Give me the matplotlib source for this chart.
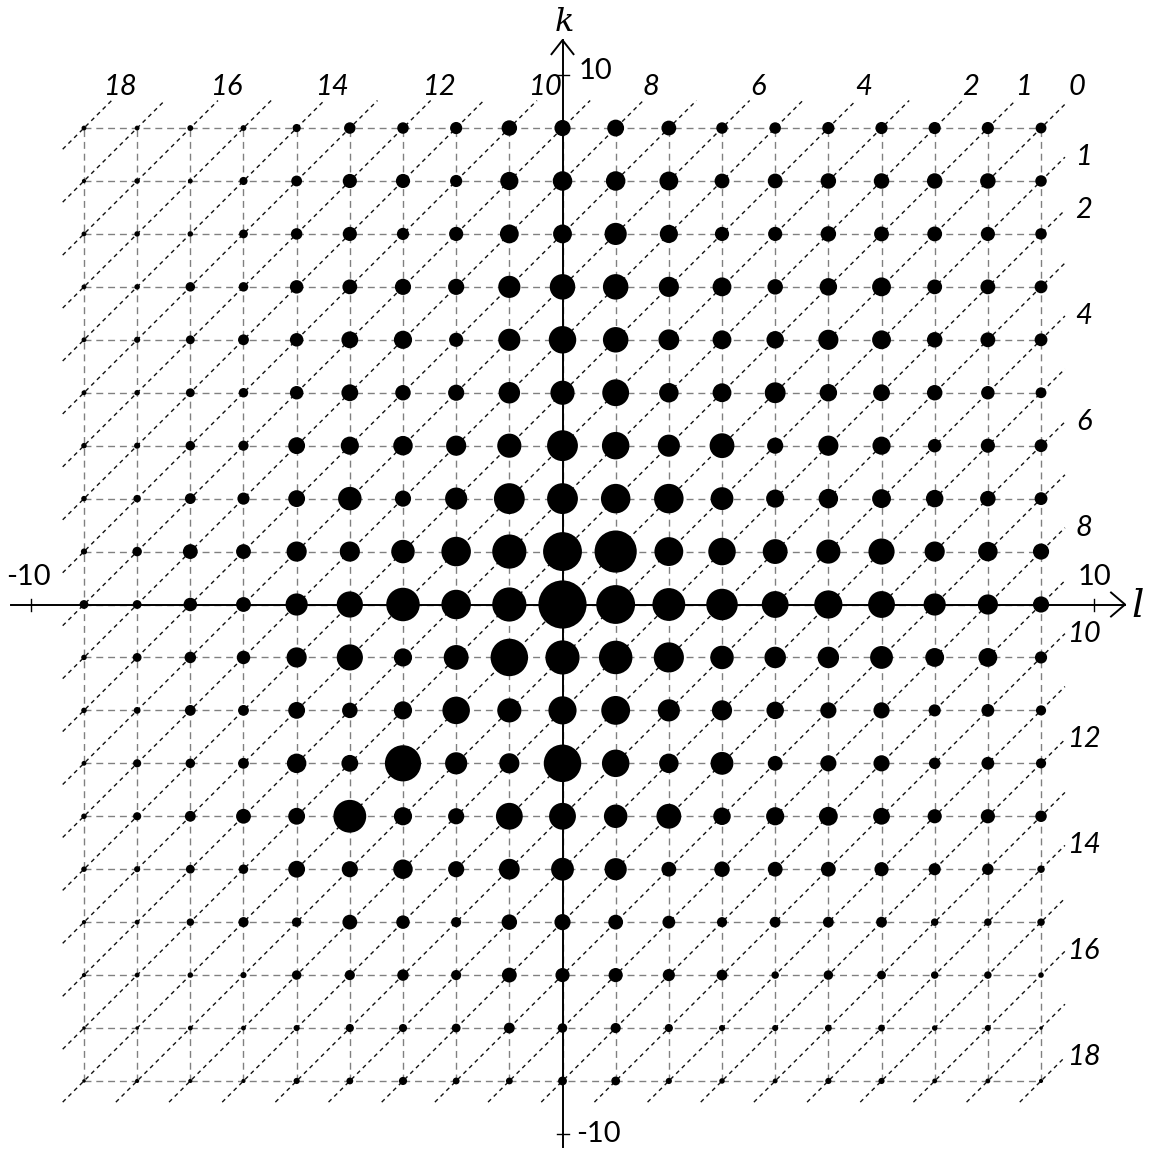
import matplotlib
matplotlib.use("Agg")
import matplotlib.pyplot as plt
import numpy as np

# grid indices
l_vals = list(range(-9, 10))
k_vals = list(range(9, -10, -1))

# dot diameters (~px*3), rows k=9..-9, columns l=-9..9
dot_size = [
    [10, 10, 13, 13, 20, 30, 30, 32, 42, 44, 46, 40, 30, 30, 32, 32, 32, 32, 28],
    [8, 12, 10, 20, 28, 38, 38, 32, 50, 54, 54, 52, 40, 40, 42, 42, 42, 42, 30],
    [10, 12, 12, 22, 30, 38, 32, 38, 52, 52, 62, 50, 38, 38, 42, 40, 40, 38, 30],
    [10, 12, 24, 24, 36, 40, 44, 44, 62, 72, 72, 56, 52, 42, 48, 52, 40, 40, 34],
    [10, 14, 22, 28, 36, 46, 50, 38, 62, 78, 72, 58, 52, 48, 56, 52, 42, 40, 34],
    [10, 12, 22, 24, 36, 46, 42, 44, 60, 68, 76, 54, 52, 58, 48, 46, 42, 36, 28],
    [12, 14, 24, 26, 46, 50, 54, 56, 68, 88, 78, 62, 70, 44, 56, 50, 36, 38, 34],
    [12, 18, 28, 32, 46, 66, 44, 62, 88, 88, 84, 84, 64, 50, 54, 52, 48, 42, 34],
    [14, 24, 40, 40, 56, 56, 66, 84, 98, 112, 122, 82, 78, 70, 68, 74, 56, 54, 44],
    [22, 22, 36, 40, 62, 74, 96, 84, 98, 140, 112, 94, 90, 76, 80, 76, 62, 56, 44],
    [12, 22, 30, 36, 56, 74, 50, 70, 108, 98, 96, 86, 66, 60, 60, 64, 52, 52, 32],
    [12, 16, 28, 28, 46, 42, 50, 78, 68, 80, 82, 62, 56, 48, 44, 44, 32, 34, 26],
    [10, 20, 24, 28, 54, 46, 104, 62, 56, 108, 78, 54, 64, 40, 44, 44, 30, 34, 26],
    [12, 20, 28, 40, 46, 94, 50, 44, 76, 76, 66, 70, 48, 50, 52, 46, 38, 38, 30],
    [12, 14, 22, 24, 46, 44, 54, 44, 58, 64, 62, 40, 42, 40, 40, 38, 32, 30, 18],
    [8, 10, 18, 26, 24, 40, 36, 26, 42, 44, 40, 34, 26, 28, 28, 28, 18, 18, 18],
    [8, 10, 12, 14, 24, 26, 30, 26, 40, 38, 38, 32, 28, 18, 24, 22, 18, 18, 12],
    [6, 6, 10, 10, 14, 20, 20, 22, 28, 24, 26, 20, 14, 14, 16, 16, 12, 14, 6],
    [6, 8, 8, 8, 14, 16, 20, 16, 16, 22, 22, 14, 12, 10, 14, 14, 10, 10, 8],
]

top_labels = [0, 1, 2, 4, 6, 8, 10, 12, 14, 16, 18]
right_labels = [1, 2, 4, 6, 8, 10, 12, 14, 16, 18]

W, H = 1151, 1149
cx, cy = 562.5, 604.5
sx, sy = 53.17, 52.94

fig = plt.figure(figsize=(W / 100, H / 100), dpi=100)
ax = fig.add_axes([0, 0, 1, 1])
ax.set_xlim(-cx / sx, (W - cx) / sx)
ax.set_ylim(-(H - cy) / sy, cy / sy)
ax.set_axis_off()

# dashed grid
for v in l_vals:
    ax.plot([v, v], [-9, 9], color="#808080", lw=1.0, dashes=(5, 3.5), zorder=1)
for v in k_vals:
    ax.plot([-9, 9], [v, v], color="#808080", lw=1.0, dashes=(5, 3.5), zorder=1)

# diagonals l - k = c
lo, hi_l, hi_k = -9.4, 9.45, 9.52
for c in range(-18, 19):
    k0 = max(lo, lo - c)
    k1 = min(hi_k, hi_l - c)
    ax.plot([k0 + c, k1 + c], [k0, k1], color="#111111", lw=1.0,
            dashes=(3, 2.8), zorder=2)

# axes with open arrows
ax.plot([-10.38, 10.58], [0, 0], color="black", lw=1.4, zorder=3)
ax.plot([0, 0], [-10.25, 10.66], color="black", lw=1.4, zorder=3)
ax.plot([10.58 - 14 / sx, 10.58, 10.58 - 14 / sx], [12 / sy, 0, -12 / sy],
        color="black", lw=1.4, zorder=3)
ax.plot([-11 / sx, 0, 11 / sx], [10.66 - 14 / sy, 10.66, 10.66 - 14 / sy],
        color="black", lw=1.4, zorder=3)
for t in (-10, 10):
    ax.plot([t, t], [-6 / sy, 6 / sy], color="black", lw=1.0, zorder=3)
    ax.plot([-6 / sx, 6 / sx], [t, t], color="black", lw=1.0, zorder=3)

# dots
L, K = np.meshgrid(l_vals, k_vals)
d_px = np.array(dot_size) / 3.0 + 1.5
ax.scatter(L.ravel(), K.ravel(), s=(d_px.ravel() * 0.72) ** 2, c="black",
           linewidths=0, zorder=4)

fnt = "Lato"
fs = 21
ax.text(-10.05, 0.52, "-10", fontsize=fs, family=fnt, ha="center", va="center")
ax.text(10.0, 0.52, "10", fontsize=fs, family=fnt, ha="center", va="center")
ax.text(0.62, 10.08, "10", fontsize=fs, family=fnt, ha="center", va="center")
ax.text(0.68, -10.0, "-10", fontsize=fs, family=fnt, ha="center", va="center")
ax.text(10.82, -0.04, "l", fontsize=28, family="DejaVu Serif", style="italic",
        ha="center", va="center")
ax.text(0.04, 11.0, "k", fontsize=23, family="DejaVu Serif", style="italic",
        ha="center", va="center")

for n in top_labels:
    ax.text(9 - n + 0.67, 9.78, str(n), fontsize=fs, family=fnt, style="italic",
            ha="center", va="center")
for n in right_labels:
    ax.text(9.8, 9 - n + 0.45, str(n), fontsize=fs, family=fnt, style="italic",
            ha="center", va="center")

fig.savefig("out.png", dpi=100)
